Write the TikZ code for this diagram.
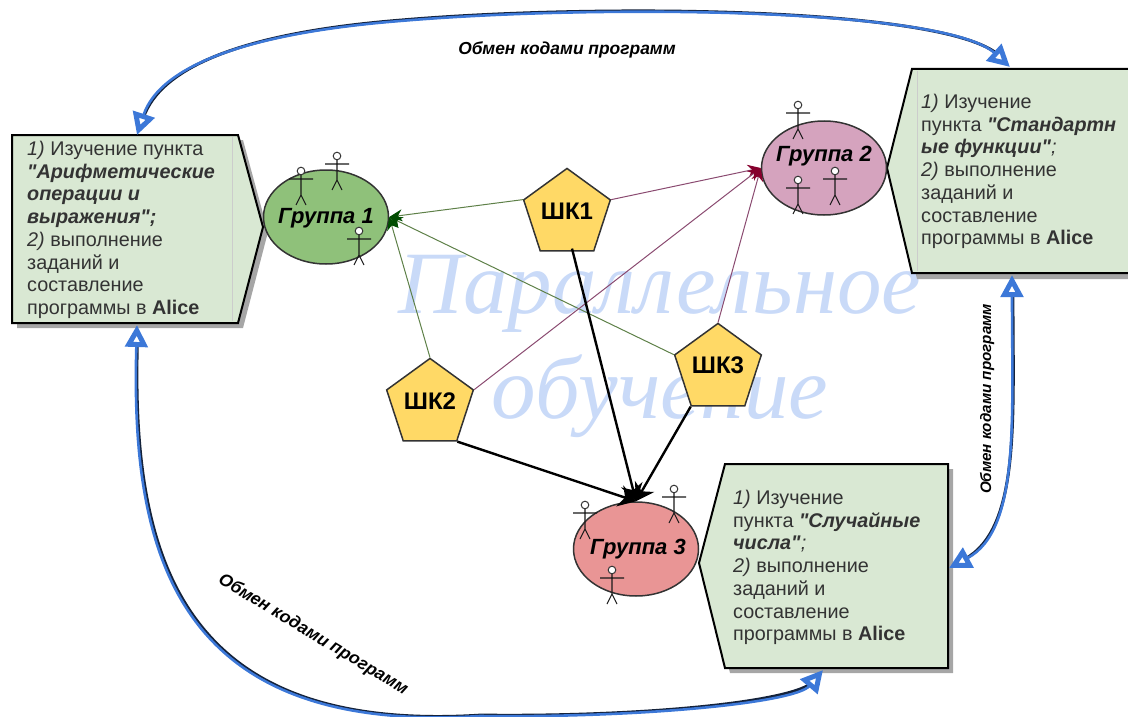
\documentclass[tikz,border=0pt]{standalone}
\usepackage{fontspec}
\setmainfont{Liberation Sans}
\newfontfamily\plainfont{Liberation Sans}
\newfontfamily\wmfont{Liberation Serif}
\usetikzlibrary{shapes.geometric,arrows.meta}
\definecolor{boxfill}{HTML}{D9E8D3}
\definecolor{gone}{HTML}{8FC17A}
\definecolor{gtwo}{HTML}{D5A3BE}
\definecolor{gthree}{HTML}{E99595}
\definecolor{pent}{HTML}{FFD966}
\definecolor{wm}{HTML}{C9DAF8}
\definecolor{txt}{HTML}{333333}
\definecolor{greenl}{HTML}{5E8048}
\definecolor{purpl}{HTML}{8A4A70}
\definecolor{blueline}{HTML}{3C78D8}
\definecolor{darkblue}{HTML}{14223A}
\tikzset{
 x=1pt,y=-1pt,
 boxshape/.style={draw=black,line width=2pt,fill=boxfill,line join=miter},
 boxshadow/.style={fill=black!35,draw=none},
 boxtext/.style={anchor=north west,align=left,inner sep=0pt,text=txt,font=\plainfont\fontsize{19.8}{22.7}\selectfont},
 group/.style={ellipse,draw=black!80,line width=1.5pt,minimum width=125pt,minimum height=94pt,inner sep=0pt},
 grouplabel/.style={inner sep=0pt,font=\fontsize{22}{26}\selectfont\bfseries\itshape},
 pentagon/.style={regular polygon,regular polygon sides=5,draw=black!80,line width=1.5pt,fill=pent,minimum size=87pt,inner sep=0pt,font=\fontsize{24}{28}\selectfont\bfseries},
 greenarrow/.style={draw=greenl,line width=1pt,-{Stealth[length=13pt,width=12pt,color=green!30!black]}},
 purplearrow/.style={draw=purpl,line width=1pt,-{Stealth[length=13pt,width=12pt,color=purple!70!black]}},
 blackarrow/.style={draw=black,line width=2.4pt,-{Stealth[length=17pt,width=22pt]}},
 exchunder/.style={draw=darkblue,line width=3pt,shorten <=16pt,shorten >=16pt,transform canvas={shift={(0.9pt,0.9pt)}}},
 exchange/.style={draw=blueline,line width=2.6pt,{Triangle[length=22pt,width=22pt,fill=white,line width=5pt,color=blueline]}-{Triangle[length=22pt,width=22pt,fill=white,line width=5pt,color=blueline]}},
 exlabel/.style={font=\fontsize{17.4}{20}\selectfont\bfseries\itshape,inner sep=0pt},
 watermark/.style={text=wm,font=\wmfont\itshape\fontsize{89}{100}\selectfont,inner sep=0pt},
 person/.pic={
  \draw[black!90,line width=1.1pt] (0,4)--(0,24) (-12,8)--(12,8) (-5,34)--(0,24)--(5,34);
  \draw[black!80,fill=white,line width=1pt] (0,0) circle (3.8);
 }
}
\begin{document}
\begin{tikzpicture}
\useasboundingbox (0,0) rectangle (1128,717);
% watermark
\node[watermark] (wma) at (660,294) {Параллельное};
\node[watermark] (wmb) at (660,396) {обучение};
% shadows
\fill[boxshadow] (17,140)--(243,140)--(268,232)--(243,328)--(17,328)--cycle;
\fill[boxshadow] (917,74)--(1128,74)--(1128,279)--(917,279)--(892,173)--cycle;
\fill[boxshadow] (730,469)--(953,469)--(953,673)--(730,673)--(704,568)--cycle;
% boxes
\draw[boxshape] (12,135)--(238,135)--(263,227)--(238,323)--(12,323)--cycle;
\draw[black!20,line width=.8pt] (232,137)--(232,321);
\draw[boxshape] (1130,69)--(912,69)--(887,168)--(912,273)--(1130,273);
\draw[black!20,line width=.8pt] (917,71)--(917,271);
\draw[boxshape] (725,464)--(948,464)--(948,668)--(725,668)--(699,563)--cycle;
\node[boxtext] (tl) at (27,141) {\textit{1)} Изучение пункта\\\textbf{\textit{"Арифметические}}\\\textbf{\textit{операции и}}\\\textbf{\textit{выражения";}}\\\textit{2)} выполнение\\заданий и\\составление\\программы в \textbf{Alice}};
\node[boxtext] (tr) at (921,94) {\textit{1)} Изучение\\пункта \textbf{\textit{"Стандартн}}\\\textbf{\textit{ые функции"}}\textit{;}\\\textit{2)} выполнение\\заданий и\\составление\\программы в \textbf{Alice}};
\node[boxtext] (tb) at (733,490) {\textit{1)} Изучение\\пункта \textbf{\textit{"Случайные}}\\\textbf{\textit{числа"}}\textit{;}\\\textit{2)} выполнение\\заданий и\\составление\\программы в \textbf{Alice}};
% groups
\node[group,fill=gone] (g1) at (326,217) {};
\node[group,fill=gtwo] (g2) at (824,168) {};
\node[group,fill=gthree] (g3) at (636,549) {};
% pentagons
\node[pentagon] (s1) at (567,214) {\raisebox{6pt}{ШК1}};
\node[pentagon] (s2) at (430,404) {\raisebox{6pt}{ШК2}};
\node[pentagon] (s3) at (718,369) {\raisebox{7pt}{ШК3}};
% connectors
\draw[greenarrow] (s1.corner 2) -- (g1.east);
\draw[greenarrow] (s2.corner 1) -- (g1.east);
\draw[greenarrow] (s3.corner 2) -- (g1.east);
\draw[purplearrow] (s1.corner 5) -- (g2.west);
\draw[purplearrow] (s2.corner 5) -- (g2.west);
\draw[purplearrow] (s3.corner 1) -- (g2.west);
\draw[blackarrow] (s1.south) ++(5,-3) -- (g3.north);
\draw[blackarrow] (s2.corner 4) -- (g3.north);
\draw[blackarrow] (s3.corner 3) -- (g3.north);
% group labels and figures
\node[grouplabel] (l1) at (326,218) {Группа 1};
\node[grouplabel] (l2) at (824,156) {Группа 2};
\node[grouplabel] (l3) at (638,549) {Группа 3};
\foreach \p in {(301,171),(337,156),(359,231),(798,105),(798,180),(835,171),(585,505),(674,489),(612,570)}
  \pic at \p {person};
% exchange curves
\coordinate (ea) at (137,135);
\coordinate (eb) at (1010,67);
\coordinate (ec) at (1012,275);
\coordinate (ed) at (949,568);
\coordinate (ee) at (137,325);
\coordinate (ef) at (823,670);
\coordinate (em) at (400,21);
\coordinate (en) at (480,716);
\draw[exchunder] (ea) .. controls (160,65) and (250,33) .. (em) .. controls (600,4) and (945,8) .. (eb);
\draw[exchunder] (ec) .. controls (1012,420) and (1020,530) .. (ed);
\draw[exchunder] (ee) .. controls (130,560) and (180,735) .. (en) .. controls (640,718) and (795,703) .. (ef);
\draw[exchange] (ea) .. controls (160,65) and (250,33) .. (em) .. controls (600,4) and (945,8) .. (eb);
\draw[exchange] (ec) .. controls (1012,420) and (1020,530) .. (ed);
\draw[exchange] (ee) .. controls (130,560) and (180,735) .. (en) .. controls (640,718) and (795,703) .. (ef);
\node[exlabel] (x1) at (567,50) {Обмен кодами программ};
\node[exlabel,rotate=90,font=\fontsize{15.2}{18}\selectfont\bfseries\itshape] (x2) at (987,399) {Обмен кодами программ};
\node[exlabel,rotate=-31] (x3) at (313,635) {Обмен кодами программ};
\end{tikzpicture}
\end{document}
